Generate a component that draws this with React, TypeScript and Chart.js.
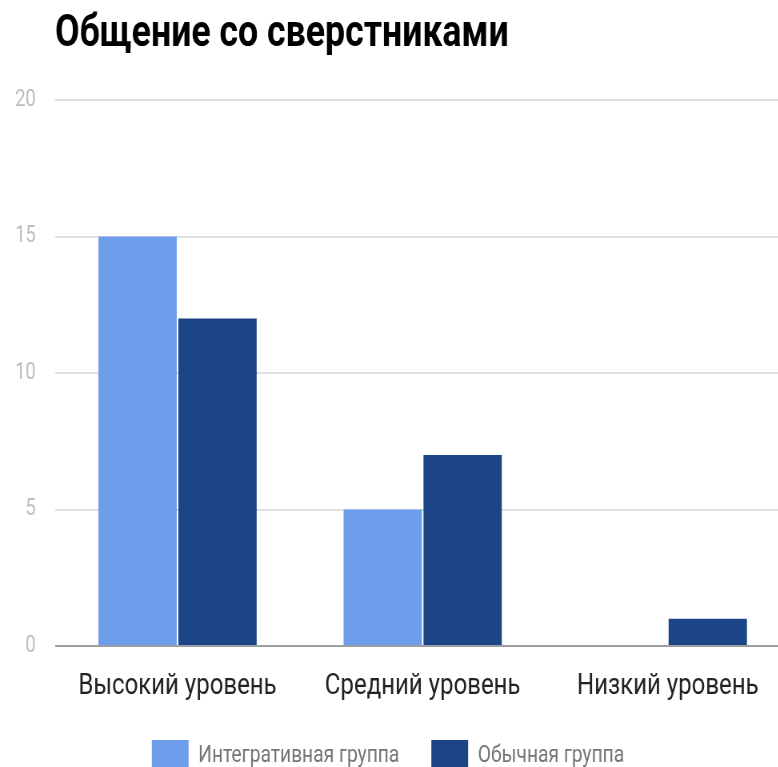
import React, { useEffect, useRef } from 'react';
import { Chart, registerables } from 'chart.js';

Chart.register(...registerables);

const chartTitle = 'Общение со сверстниками';
const categories = ['Высокий уровень', 'Средний уровень', 'Низкий уровень'];
const seriesNames = ['Интегративная группа', 'Обычная группа'];
const integrativeGroup = [15, 5, 0];
const ordinaryGroup = [12, 7, 1];
const yTickValues = [0, 5, 10, 15, 20];

const LIGHT_BLUE = '#6d9eeb';
const DARK_BLUE = '#1c4587';

// Narrow glyphs: the whole drawing is compressed horizontally.
const SQUEEZE = 0.8;
const CANVAS_W = 988;
const CANVAS_H = 782;
const LEGEND_LIFT = 18;
const LEGEND_SHIFT = 9;
const FONT = 'Roboto, "Noto Sans", sans-serif';

const titlePlugin = {
  id: 'leftTitle',
  afterDraw(chart: any) {
    const { ctx, chartArea } = chart;
    ctx.save();
    ctx.font = `bold 44.6px ${FONT}`;
    ctx.fillStyle = '#000000';
    ctx.textBaseline = 'alphabetic';
    ctx.textAlign = 'left';
    ctx.fillText(chartTitle, chartArea.left, 46);
    ctx.restore();
  },
};

// Centre the legend on the visible part of the canvas rather than the full width.
const legendShiftPlugin = {
  id: 'legendShift',
  afterLayout(chart: any) {
    const legend = chart.legend;
    if (!legend) return;
    legend.left -= LEGEND_SHIFT;
    legend.right -= LEGEND_SHIFT;
  },
};

export default function App() {
  const canvasRef = useRef<HTMLCanvasElement | null>(null);

  useEffect(() => {
    const canvas = canvasRef.current;
    if (!canvas) return;
    const chart = new Chart(canvas, {
      type: 'bar',
      data: {
        labels: categories,
        datasets: [
          {
            label: seriesNames[0],
            data: integrativeGroup,
            backgroundColor: LIGHT_BLUE,
            categoryPercentage: 0.652,
            barPercentage: 0.98,
          },
          {
            label: seriesNames[1],
            data: ordinaryGroup,
            backgroundColor: DARK_BLUE,
            categoryPercentage: 0.652,
            barPercentage: 0.98,
          },
        ],
      },
      options: {
        responsive: false,
        animation: false,
        devicePixelRatio: 1,
        layout: { padding: { top: 100, left: 0, right: 0, bottom: 0 } },
        plugins: {
          title: { display: false },
          tooltip: { enabled: false },
          legend: {
            position: 'bottom',
            align: 'center',
            labels: {
              boxWidth: 46,
              boxHeight: 32,
              padding: 40,
              color: '#757575',
              font: { family: FONT, size: 24 },
            },
          },
        },
        scales: {
          x: {
            grid: { display: false },
            border: { display: false },
            afterFit(scale: any) {
              scale.height -= LEGEND_LIFT;
            },
            ticks: {
              color: '#222222',
              font: { family: FONT, size: 30 },
              padding: 14,
              maxRotation: 0,
            },
          },
          y: {
            min: 0,
            max: 20,
            afterBuildTicks(scale: any) {
              scale.ticks = yTickValues.map((v) => ({ value: v }));
            },
            afterFit(scale: any) {
              scale.width = 55 / SQUEEZE;
            },
            grid: {
              drawTicks: false,
              lineWidth: 2,
              color: (ctx: any) => (ctx.tick && ctx.tick.value === 0 ? '#9e9e9e' : '#e0e0e0'),
            },
            border: { display: false },
            ticks: {
              color: '#bdbdbd',
              font: { family: FONT, size: 23 },
              padding: 24,
            },
          },
        },
      },
      plugins: [titlePlugin, legendShiftPlugin],
    });
    return () => chart.destroy();
  }, []);

  return (
    <div
      style={{
        position: 'fixed',
        left: 0,
        top: 0,
        width: 778,
        height: 767,
        overflow: 'hidden',
        background: '#ffffff',
      }}
    >
      <div
        style={{
          width: CANVAS_W,
          height: CANVAS_H,
          transform: `scaleX(${SQUEEZE})`,
          transformOrigin: '0 0',
        }}
      >
        <canvas ref={canvasRef} width={CANVAS_W} height={CANVAS_H} style={{ display: 'block' }} />
      </div>
    </div>
  );
}
